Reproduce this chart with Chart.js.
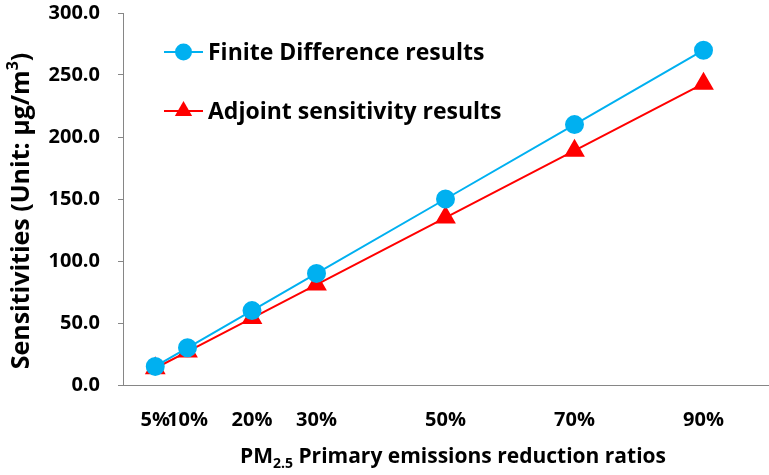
<!DOCTYPE html>
<html>
<head>
<meta charset="utf-8">
<script src="https://cdn.jsdelivr.net/npm/chart.js@4/dist/chart.umd.min.js"></script>
<style>
  html, body { margin: 0; padding: 0; background: #fff; }
  #wrap { width: 769px; height: 475px; }
</style>
</head>
<body>
<div id="wrap"><canvas id="chart" width="769" height="475"></canvas></div>
<script>
const ratios = [5, 10, 20, 30, 50, 70, 90];
const finiteDiff = [15, 30, 60, 90, 150, 210, 270];
const adjoint = [13.5, 27, 54, 81, 135, 189, 243];
const yTicks = [0, 50, 100, 150, 200, 250, 300];

const FONT = '"Open Sans", sans-serif';
const AXIS_GRAY = '#868686';

function toPoints(vals) {
  return ratios.map((r, i) => ({ x: r, y: vals[i] }));
}

// draws a run of text pieces, some raised or lowered, centred on (cx, cy)
function drawRichText(ctx, parts, cx, cy, size) {
  const widths = parts.map(p => {
    ctx.font = `bold ${p.small ? Math.round(size * 0.65) : size}px ${FONT}`;
    return ctx.measureText(p.text).width;
  });
  const total = widths.reduce((a, b) => a + b, 0);
  let x = cx - total / 2;
  ctx.textAlign = 'left';
  ctx.textBaseline = 'middle';
  parts.forEach((p, i) => {
    ctx.font = `bold ${p.small ? Math.round(size * 0.65) : size}px ${FONT}`;
    ctx.fillText(p.text, x, cy + (p.shift || 0));
    x += widths[i];
  });
}

const extras = {
  id: 'extras',
  afterDraw(chart) {
    const ctx = chart.ctx;
    const area = chart.chartArea;
    ctx.save();
    ctx.fillStyle = '#000';

    // x axis title
    drawRichText(ctx, [
      { text: 'PM' },
      { text: '2.5', small: true, shift: 7 },
      { text: ' Primary emissions reduction ratios' }
    ], 453, 457, 21);

    // y axis title, rotated
    ctx.save();
    ctx.translate(22, 211);
    ctx.rotate(-Math.PI / 2);
    drawRichText(ctx, [
      { text: 'Sensitivities (Unit: \u00b5g/m' },
      { text: '3', small: true, shift: -9 },
      { text: ')' }
    ], 0, 0, 25);
    ctx.restore();

    // legend inside plot
    chart.data.datasets.forEach((ds, i) => {
      const y = area.top + 39 + i * 59;
      const x0 = area.left + 41;
      ctx.strokeStyle = ds.borderColor;
      ctx.lineWidth = 2;
      ctx.beginPath();
      ctx.moveTo(x0, y);
      ctx.lineTo(x0 + 39, y);
      ctx.stroke();
      ctx.fillStyle = ds.pointBackgroundColor;
      const mx = x0 + 19.5;
      const r = ds.pointRadius;
      ctx.beginPath();
      if (ds.pointStyle === 'triangle') {
        ctx.moveTo(mx, y - r);
        ctx.lineTo(mx + r * 0.866, y + r * 0.5);
        ctx.lineTo(mx - r * 0.866, y + r * 0.5);
        ctx.closePath();
      } else {
        ctx.arc(mx, y, r, 0, Math.PI * 2);
      }
      ctx.fill();
      ctx.fillStyle = '#000';
      ctx.font = `bold 23px ${FONT}`;
      ctx.textAlign = 'left';
      ctx.textBaseline = 'middle';
      ctx.fillText(ds.label, x0 + 44, y + 1);
    });
    ctx.restore();
  }
};

new Chart(document.getElementById('chart'), {
  type: 'line',
  data: {
    datasets: [
      {
        label: 'Finite Difference results',
        data: toPoints(finiteDiff),
        borderColor: '#00B0F0',
        backgroundColor: '#00B0F0',
        pointBackgroundColor: '#00B0F0',
        pointBorderColor: '#00B0F0',
        pointStyle: 'circle',
        pointRadius: 8.5,
        borderWidth: 2,
        tension: 0,
        clip: false
      },
      {
        label: 'Adjoint sensitivity results',
        data: toPoints(adjoint),
        borderColor: '#FF0000',
        backgroundColor: '#FF0000',
        pointBackgroundColor: '#FF0000',
        pointBorderColor: '#FF0000',
        pointStyle: 'triangle',
        pointRadius: 10,
        borderWidth: 2,
        tension: 0,
        clip: false
      }
    ]
  },
  options: {
    responsive: false,
    animation: false,
    layout: { autoPadding: false, padding: { top: 13, right: 1, left: 0, bottom: 0 } },
    plugins: {
      legend: { display: false },
      tooltip: { enabled: false }
    },
    scales: {
      x: {
        type: 'linear',
        min: 0,
        max: 100,
        afterBuildTicks: s => { s.ticks = ratios.map(v => ({ value: v })); },
        afterFit: s => { s.height = 90; s.paddingLeft = 0; s.paddingRight = 0; },
        grid: { display: false },
        border: { display: true, color: AXIS_GRAY, width: 1 },
        ticks: {
          autoSkip: false,
          maxRotation: 0,
          padding: 15,
          color: '#000',
          font: { family: FONT, size: 20, weight: 'bold' },
          callback: v => v + '%'
        }
      },
      y: {
        min: 0,
        max: 300,
        afterBuildTicks: s => { s.ticks = yTicks.map(v => ({ value: v })); },
        afterFit: s => { s.width = 123; s.paddingTop = 0; s.paddingBottom = 0; },
        grid: { drawOnChartArea: false, drawTicks: true, tickLength: 5, color: AXIS_GRAY },
        border: { display: true, color: AXIS_GRAY, width: 1 },
        ticks: {
          padding: 18,
          color: '#000',
          font: { family: FONT, size: 20, weight: 'bold' },
          callback: v => v.toFixed(1)
        }
      }
    }
  },
  plugins: [extras]
});
</script>
</body>
</html>
